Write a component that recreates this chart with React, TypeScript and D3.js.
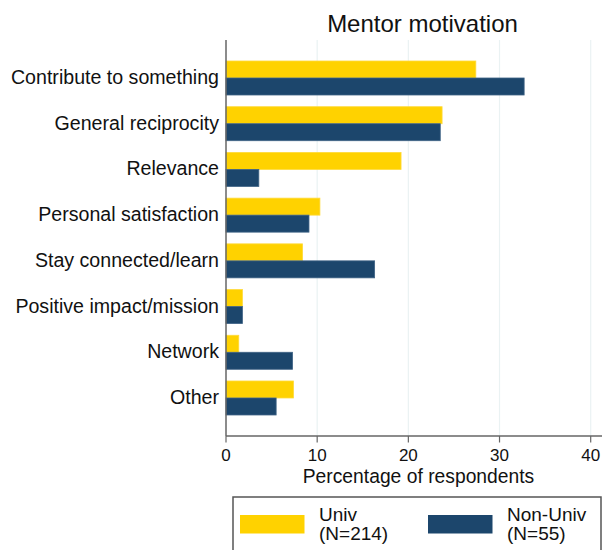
import React from "react";
import * as d3 from "d3";

const categories = [
  "Contribute to something",
  "General reciprocity",
  "Relevance",
  "Personal satisfaction",
  "Stay connected/learn",
  "Positive impact/mission",
  "Network",
  "Other",
];
const seriesNames = ["Univ", "Non-Univ"];
const seriesLabels = ["(N=214)", "(N=55)"];
const univValues = [27.4, 23.7, 19.2, 10.3, 8.4, 1.8, 1.4, 7.4];
const nonUnivValues = [32.7, 23.5, 3.6, 9.1, 16.3, 1.8, 7.3, 5.5];
const xTicks = [0, 10, 20, 30, 40];
const colors = ["#FFD200", "#1C466C"];

const FONT = "'Liberation Sans', Arial, Helvetica, sans-serif";

export default function App() {
  const width = 602;
  const height = 550;
  const plotTop = 40;
  const plotBottom = 436;
  const x = d3.scaleLinear().domain([0, 40]).range([226, 590.7]);
  const y = d3
    .scaleBand<string>()
    .domain(categories)
    .range([55.15, 420.85])
    .padding(0);
  const sub = d3
    .scaleBand<string>()
    .domain(seriesNames)
    .range([5.85, 39.85])
    .padding(0);
  const values = [univValues, nonUnivValues];

  return (
    <svg
      width={width}
      height={height}
      style={{ position: "absolute", left: 0, top: 0, background: "#fff" }}
      fontFamily={FONT}
    >
      <rect x={0} y={0} width={width} height={height} fill="#fff" />
      {/* gridlines */}
      {xTicks.slice(1).map((t) => (
        <line
          key={"g" + t}
          x1={x(t)}
          x2={x(t)}
          y1={plotTop}
          y2={plotBottom}
          stroke="#EAF2F3"
          strokeWidth={1.2}
        />
      ))}
      {/* bars */}
      {categories.map((c, i) =>
        seriesNames.map((s, j) => (
          <rect
            key={c + s}
            x={x(0)}
            y={(y(c) as number) + (sub(s) as number)}
            width={x(values[j][i]) - x(0)}
            height={sub.bandwidth()}
            fill={colors[j]}
            stroke={j === 0 ? "#FFDA3A" : "#3F6385"}
            strokeWidth={0.8}
          />
        ))
      )}
      {/* left axis */}
      <line
        x1={x(0)}
        x2={x(0)}
        y1={plotTop}
        y2={plotBottom}
        stroke="#666"
        strokeWidth={1.5}
      />
      {/* bottom axis */}
      <line
        x1={x(0)}
        x2={602}
        y1={plotBottom}
        y2={plotBottom}
        stroke="#666"
        strokeWidth={1.5}
      />
      {xTicks.map((t) => (
        <g key={"t" + t}>
          <line
            x1={x(t)}
            x2={x(t)}
            y1={plotBottom}
            y2={plotBottom + 6.5}
            stroke="#666"
            strokeWidth={1.2}
          />
          <text
            x={x(t)}
            y={460.8}
            textAnchor="middle"
            fontSize={17}
            fill="#111"
          >
            {t}
          </text>
        </g>
      ))}
      {/* category labels */}
      {categories.map((c) => (
        <text
          key={"l" + c}
          x={219}
          y={(y(c) as number) + y.bandwidth() / 2 + 6}
          textAnchor="end"
          fontSize={19.6}
          fill="#111"
        >
          {c}
        </text>
      ))}
      {/* title */}
      <text x={422.5} y={32} textAnchor="middle" fontSize={24} fill="#111">
        Mentor motivation
      </text>
      {/* axis title */}
      <text x={418.5} y={483} textAnchor="middle" fontSize={19.3} fill="#111">
        Percentage of respondents
      </text>
      {/* legend */}
      <rect
        x={233}
        y={497}
        width={368}
        height={70}
        fill="#fff"
        stroke="#555"
        strokeWidth={1.5}
      />
      {seriesNames.map((s, j) => {
        const sx = j === 0 ? 240 : 428;
        const tx = j === 0 ? 319 : 507;
        return (
          <g key={"lg" + s}>
            <rect x={sx} y={515} width={64.5} height={18.5} fill={colors[j]} />
            <text x={tx} y={520.5} fontSize={19} fill="#111">
              {s}
            </text>
            <text x={tx} y={539.5} fontSize={19} fill="#111">
              {seriesLabels[j]}
            </text>
          </g>
        );
      })}
    </svg>
  );
}
